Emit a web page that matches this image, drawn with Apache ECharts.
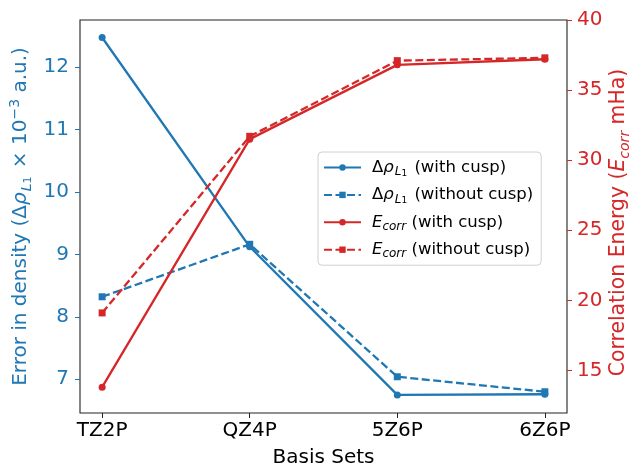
<!DOCTYPE html>
<html>
<head>
<meta charset="utf-8">
<script src="https://cdn.jsdelivr.net/npm/echarts@6/dist/echarts.min.js"></script>
<style>
  html, body { margin: 0; padding: 0; background: #fff; }
  #chart { width: 631px; height: 466px; }
</style>
</head>
<body>
<div id="chart"></div>
<script>
// Basis sets on the x axis
const basisSets = ['TZ2P', 'QZ4P', '5Z6P', '6Z6P'];

// L1 density error (x 10^-3 a.u.), left axis
const densityWithCusp = [12.47, 9.12, 6.75, 6.76];
const densityWithoutCusp = [8.32, 9.16, 7.04, 6.80];

// Correlation energy (mHa), right axis
const ecorrWithCusp = [13.8, 31.5, 36.8, 37.2];
const ecorrWithoutCusp = [19.1, 31.7, 37.1, 37.3];

// Tick values
const leftTicks = [7, 8, 9, 10, 11, 12];
const rightTicks = [15, 20, 25, 30, 35, 40];
const xTicks = [0, 1, 2, 3];

const BLUE = '#1f77b4';
const RED = '#d62728';
const FONT = 'DejaVu Sans';

const toPoints = vals => vals.map((v, i) => [i, v]);

// Rich-text legend labels
const legendLabels = {
  'rho-with': '{n|Δ}{i|ρ}{s|L}{ss|1}{n| (with cusp)}',
  'rho-without': '{n|Δ}{i|ρ}{s|L}{ss|1}{n| (without cusp)}',
  'e-with': '{i|E}{si|corr}{n| (with cusp)}',
  'e-without': '{i|E}{si|corr}{n| (without cusp)}'
};

function richSet(size, color) {
  const lh = Math.round(size * 1.3);
  const sub = Math.round(size * 0.7);
  return {
    n: { fontFamily: FONT, fontSize: size, color: color, lineHeight: lh },
    i: { fontFamily: FONT, fontSize: size, fontStyle: 'italic', color: color, lineHeight: lh },
    s: { fontFamily: FONT, fontSize: sub, fontStyle: 'italic', color: color, lineHeight: sub, verticalAlign: 'bottom', padding: [0, 0, 0, 1] },
    si: { fontFamily: FONT, fontSize: sub, fontStyle: 'italic', color: color, lineHeight: sub, verticalAlign: 'bottom' },
    ss: { fontFamily: FONT, fontSize: Math.round(sub * 0.75), color: color, lineHeight: Math.round(sub * 0.6), verticalAlign: 'bottom', padding: [0, 2, 0, 0] },
    sup: { fontFamily: FONT, fontSize: sub, color: color, lineHeight: sub, verticalAlign: 'top' }
  };
}

const chart = echarts.init(document.getElementById('chart'), null, { renderer: 'canvas' });

const lineSeries = (name, vals, color, dashed, symbol, axisIdx) => ({
  name: name,
  type: 'line',
  yAxisIndex: axisIdx,
  data: toPoints(vals),
  symbol: symbol,
  symbolSize: 7,
  showSymbol: true,
  lineStyle: { color: color, width: 2.3, type: dashed ? [8, 3.5] : 'solid' },
  itemStyle: { color: color },
  emphasis: { disabled: true },
  animation: false
});

chart.setOption({
  animation: false,
  backgroundColor: '#fff',
  grid: {
    left: 80, right: 64, top: 20, bottom: 53,
    outerBoundsMode: 'none',
    containLabel: false,
    show: true, borderColor: '#222', borderWidth: 1.1, backgroundColor: 'transparent'
  },
  legend: {
    orient: 'vertical',
    left: 318, top: 152,
    padding: [7, 8, 5, 5],
    itemGap: 8.4,
    itemWidth: 37,
    itemHeight: 8,
    borderColor: '#d0d0d0',
    borderWidth: 1,
    borderRadius: 4,
    backgroundColor: 'rgba(255,255,255,0.85)',
    selectedMode: false,
    data: ['rho-with', 'rho-without', 'e-with', 'e-without'],
    formatter: name => legendLabels[name],
    textStyle: { rich: richSet(16.5, '#000'), padding: [0, 0, 0, 6] }
  },
  xAxis: {
    type: 'value',
    min: -0.15, max: 3.15,
    name: 'Basis Sets',
    nameLocation: 'middle',
    nameGap: 35,
    nameMoveOverlap: false,
    nameTextStyle: { fontFamily: FONT, fontSize: 20, color: '#000' },
    axisLine: { show: false, onZero: false },
    axisTick: { show: true, customValues: xTicks, length: 5, lineStyle: { color: '#222', width: 1 } },
    axisLabel: {
      customValues: xTicks, margin: 8,
      fontFamily: FONT, fontSize: 20, color: '#000',
      formatter: v => basisSets[Math.round(v)]
    },
    splitLine: { show: false }
  },
  yAxis: [
    {
      type: 'value',
      position: 'left',
      min: 6.46, max: 12.75,
      name: '{n|Error in density (Δ}{i|ρ}{s|L}{ss|1}{n| × 10}{sup|−3}{n| a.u.)}',
      nameLocation: 'middle',
      nameGap: 46,
      nameMoveOverlap: false,
      nameRotate: 90,
      nameTextStyle: { rich: richSet(20, BLUE) },
      axisLine: { show: false, onZero: false },
      axisTick: { show: true, customValues: leftTicks, length: 5, lineStyle: { color: BLUE, width: 1 } },
      axisLabel: { customValues: leftTicks, margin: 11, fontFamily: FONT, fontSize: 20, color: BLUE },
      splitLine: { show: false }
    },
    {
      type: 'value',
      position: 'right',
      min: 11.96, max: 40,
      name: '{n|Correlation Energy (}{i|E}{si|corr}{n| mHa)}',
      nameLocation: 'middle',
      nameGap: 38,
      nameMoveOverlap: false,
      nameRotate: 90,
      nameTextStyle: { rich: richSet(20.4, RED), padding: [0, 12, 0, 0] },
      axisLine: { show: false, onZero: false },
      axisTick: { show: true, customValues: rightTicks, length: 5, lineStyle: { color: RED, width: 1 } },
      axisLabel: { customValues: rightTicks, margin: 10, fontFamily: FONT, fontSize: 20, color: RED },
      splitLine: { show: false }
    }
  ],
  series: [
    lineSeries('rho-with', densityWithCusp, BLUE, false, 'circle', 0),
    lineSeries('rho-without', densityWithoutCusp, BLUE, true, 'rect', 0),
    lineSeries('e-with', ecorrWithCusp, RED, false, 'circle', 1),
    lineSeries('e-without', ecorrWithoutCusp, RED, true, 'rect', 1)
  ]
});
</script>
</body>
</html>
